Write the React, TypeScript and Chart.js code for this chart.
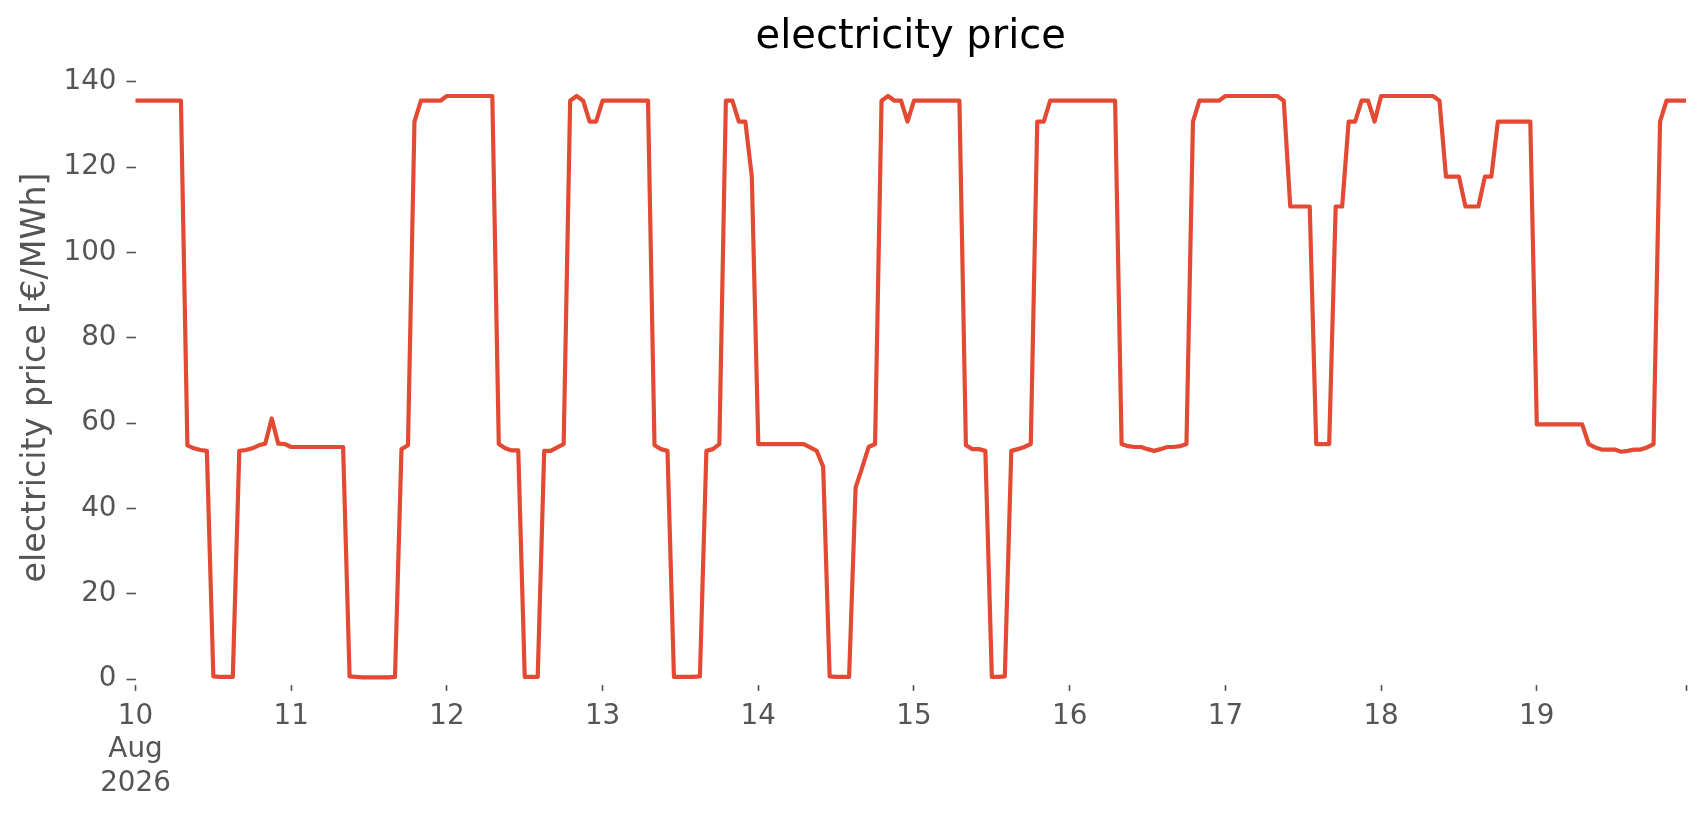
import React, { useEffect, useRef } from "react";
import { Chart, registerables } from "chart.js";

Chart.register(...registerables);

// Hourly electricity price [€/MWh], one array per day (10–19 Aug 2026)
const day10 = [135.6, 135.6, 135.6, 135.6, 135.6, 135.6, 135.6, 135.6, 54.8, 54.1, 53.7, 53.5, 0.6, 0.5, 0.5, 0.5, 53.5, 53.7, 54.1, 54.8, 55.2, 61.1, 55.2, 55.1];
const day11 = [54.4, 54.4, 54.4, 54.4, 54.4, 54.4, 54.4, 54.4, 54.4, 0.6, 0.5, 0.4, 0.4, 0.4, 0.4, 0.4, 0.5, 53.9, 54.8, 130.7, 135.6, 135.6, 135.6, 135.6];
const day12 = [136.7, 136.7, 136.7, 136.7, 136.7, 136.7, 136.7, 136.7, 55.1, 54.1, 53.6, 53.6, 0.5, 0.5, 0.5, 53.5, 53.5, 54.3, 55.1, 135.6, 136.7, 135.6, 130.7, 130.7];
const day13 = [135.6, 135.6, 135.6, 135.6, 135.6, 135.6, 135.6, 135.6, 54.8, 53.9, 53.5, 0.5, 0.5, 0.5, 0.5, 0.6, 53.5, 53.9, 55.1, 135.6, 135.6, 130.7, 130.7, 117.8];
const day14 = [55.1, 55.1, 55.1, 55.1, 55.1, 55.1, 55.1, 55.1, 54.3, 53.5, 49.8, 0.6, 0.5, 0.5, 0.5, 44.9, 49.5, 54.4, 55.1, 135.6, 136.7, 135.6, 135.6, 130.7];
const day15 = [135.6, 135.6, 135.6, 135.6, 135.6, 135.6, 135.6, 135.6, 54.8, 53.9, 53.9, 53.5, 0.5, 0.5, 0.6, 53.5, 53.9, 54.4, 55.1, 130.7, 130.7, 135.6, 135.6, 135.6];
const day16 = [135.6, 135.6, 135.6, 135.6, 135.6, 135.6, 135.6, 135.6, 55.1, 54.6, 54.4, 54.4, 53.9, 53.5, 53.9, 54.4, 54.4, 54.6, 55.1, 130.7, 135.6, 135.6, 135.6, 135.6];
const day17 = [136.7, 136.7, 136.7, 136.7, 136.7, 136.7, 136.7, 136.7, 136.7, 135.6, 110.8, 110.8, 110.8, 110.8, 55.1, 55.1, 55.1, 110.8, 110.8, 130.7, 130.7, 135.6, 135.6, 130.7];
const day18 = [136.7, 136.7, 136.7, 136.7, 136.7, 136.7, 136.7, 136.7, 136.7, 135.6, 117.8, 117.8, 117.8, 110.8, 110.8, 110.8, 117.8, 117.8, 130.7, 130.7, 130.7, 130.7, 130.7, 130.7];
const day19 = [59.7, 59.7, 59.7, 59.7, 59.7, 59.7, 59.7, 59.7, 55.1, 54.3, 53.8, 53.8, 53.8, 53.3, 53.5, 53.8, 53.8, 54.3, 55.1, 130.7, 135.6, 135.6, 135.6, 135.6];

const dayLabels = ["10", "11", "12", "13", "14", "15", "16", "17", "18", "19"];
const firstLabelExtra = ["Aug", "2026"];
const yTickValues = [0, 20, 40, 60, 80, 100, 120, 140];

const TITLE = "electricity price";
const Y_LABEL = "electricity price [€/MWh]";
const HOURS_PER_DAY = 24;

const FONT = "DejaVu Sans";
const TEXT_GREY = "#555555";

export default function App() {
  const ref = useRef<HTMLCanvasElement>(null);

  useEffect(() => {
    const days = [day10, day11, day12, day13, day14, day15, day16, day17, day18, day19];
    const prices = days.flat();
    const points = prices.map((y, i) => ({ x: i, y }));
    const lastIndex = prices.length - 1;
    const xTickValues = [...dayLabels.map((_, d) => d * HOURS_PER_DAY), lastIndex];

    const chart = new Chart(ref.current as HTMLCanvasElement, {
      type: "line",
      data: {
        datasets: [
          {
            data: points,
            borderColor: "#E24A33",
            backgroundColor: "#E24A33",
            borderWidth: 4.2,
            pointRadius: 0,
            fill: false,
            tension: 0,
            borderJoinStyle: "round",
            borderCapStyle: "square",
          },
        ],
      },
      options: {
        animation: false,
        responsive: false,
        devicePixelRatio: 1,
        layout: { padding: { left: 0, right: 20, top: 0, bottom: 0 } },
        plugins: {
          legend: { display: false },
          tooltip: { enabled: false },
          title: {
            display: true,
            text: TITLE,
            fullSize: false,
            color: "#000000",
            font: { family: FONT, size: 40, weight: "normal", lineHeight: 1.2 },
            padding: { top: 13.9, bottom: 8.1 },
          },
        },
        scales: {
          x: {
            type: "linear",
            min: 0,
            max: lastIndex,
            afterBuildTicks: (s: any) => {
              s.ticks = xTickValues.map((v) => ({ value: v }));
            },
            afterFit: (s: any) => {
              s.height = 130;
            },
            ticks: {
              autoSkip: false,
              maxRotation: 0,
              minRotation: 0,
              padding: 9,
              color: TEXT_GREY,
              font: { family: FONT, size: 27.8, lineHeight: 1.2 },
              callback: (value: any) => {
                const i = xTickValues.indexOf(Number(value));
                if (i === 0) return [dayLabels[0], ...firstLabelExtra];
                if (i > 0 && i < dayLabels.length) return dayLabels[i];
                return "";
              },
            },
            grid: {
              drawOnChartArea: false,
              drawTicks: true,
              tickLength: 6,
              tickColor: TEXT_GREY,
              tickWidth: 1.6,
            },
            border: { display: false },
          },
          y: {
            type: "linear",
            min: -1.4,
            max: 142.8,
            afterBuildTicks: (s: any) => {
              s.ticks = yTickValues.map((v) => ({ value: v }));
            },
            afterFit: (s: any) => {
              s.width = 135.5;
            },
            ticks: {
              padding: 10,
              color: TEXT_GREY,
              font: { family: FONT, size: 27.8, lineHeight: 1.2 },
              callback: (value: any) => String(value),
            },
            grid: {
              drawOnChartArea: false,
              drawTicks: true,
              tickLength: 9,
              tickColor: TEXT_GREY,
              tickWidth: 1.6,
            },
            border: { display: false },
            title: {
              display: true,
              text: Y_LABEL,
              color: TEXT_GREY,
              font: { family: FONT, size: 33.3, lineHeight: 1.2 },
              padding: { top: 16.8, bottom: 0 },
            },
          },
        },
      },
    });
    return () => chart.destroy();
  }, []);

  return (
    <div style={{ position: "absolute", left: 0, top: 0, width: 1706, height: 815, background: "#ffffff" }}>
      <canvas ref={ref} width={1706} height={815} style={{ display: "block" }} />
    </div>
  );
}
